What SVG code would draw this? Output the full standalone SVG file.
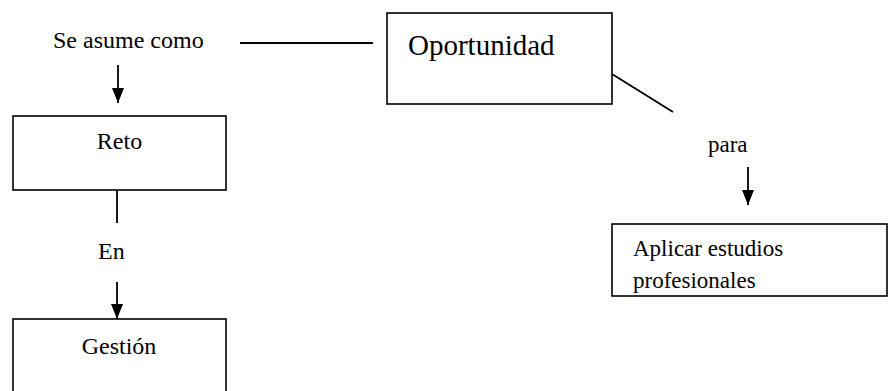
<svg xmlns="http://www.w3.org/2000/svg" width="892" height="391" viewBox="0 0 892 391">
<style>
.box{fill:#fff;stroke:#000;stroke-width:1.6}
.t{fill:#000}
.c{stroke:#000;stroke-width:1.8;fill:none}
</style>
<defs>
<marker id="ah" markerUnits="userSpaceOnUse" markerWidth="12" markerHeight="15" viewBox="0 0 12 15" refX="6" refY="15" orient="0">
<path d="M0,0 L12,0 L6,15 z" fill="#000"/>
</marker>
<clipPath id="clipA"><rect x="612" y="224" width="275" height="69"/></clipPath>
</defs>
<rect width="892" height="391" fill="#fff"/>
<g id="connectors">
<line class="c" x1="240" y1="43" x2="373" y2="43"/>
<line class="c" x1="612" y1="74" x2="673" y2="112"/>
<line class="c" x1="118" y1="65" x2="118" y2="103" marker-end="url(#ah)"/>
<line class="c" x1="117" y1="187" x2="117" y2="223"/>
<line class="c" x1="117" y1="282" x2="117" y2="319" marker-end="url(#ah)"/>
<line class="c" x1="748" y1="167" x2="748" y2="205" marker-end="url(#ah)"/>
</g>
<g font-family="'Liberation Serif', Tinos, 'Times New Roman', 'DejaVu Serif', serif">
<g id="label-se-asume"><text class="t" x="53" y="48" font-size="24">Se asume como</text></g>
<g id="node-oportunidad">
<rect class="box" x="387" y="13" width="225" height="91"/>
<text class="t" x="408" y="55" font-size="29">Oportunidad</text>
</g>
<g id="node-reto">
<rect class="box" x="13" y="116" width="213" height="74"/>
<text class="t" x="119.5" y="149" font-size="24" text-anchor="middle">Reto</text>
</g>
<g id="label-en"><text class="t" x="98" y="259" font-size="24">En</text></g>
<g id="node-gestion">
<rect class="box" x="13" y="319" width="213" height="80"/>
<text class="t" x="119" y="354" font-size="24" text-anchor="middle">Gestión</text>
</g>
<g id="label-para"><text class="t" x="708" y="152" font-size="23">para</text></g>
<g id="node-aplicar">
<rect class="box" x="612" y="224" width="275" height="72"/>
<g clip-path="url(#clipA)">
<text class="t" x="633" y="256" font-size="23">Aplicar estudios</text>
<text class="t" x="633" y="288" font-size="23">profesionales</text>
</g>
</g>
</g>
</svg>
